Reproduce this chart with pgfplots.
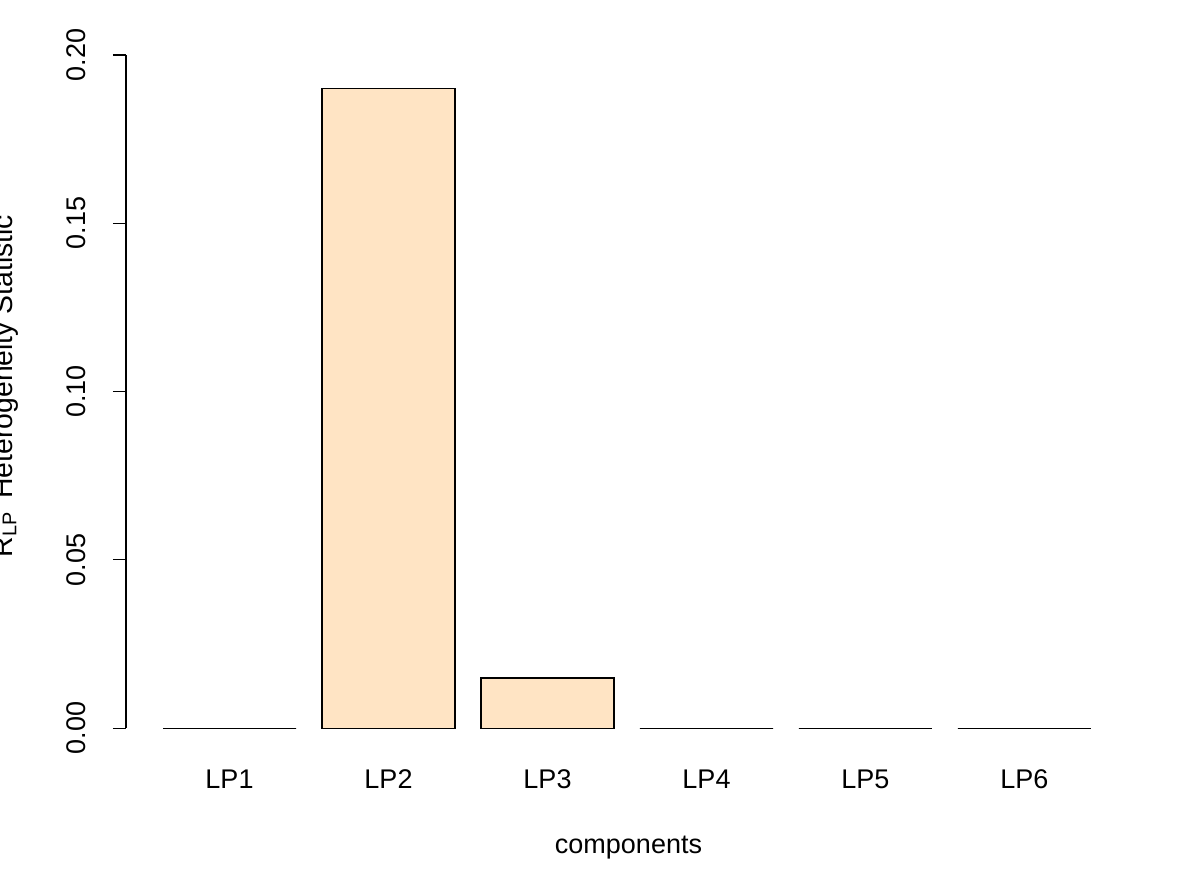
\documentclass[border=0pt]{standalone}
\usepackage{fontspec}
\setmainfont{Liberation Sans}
\usepackage{pgfplots}
\pgfplotsset{compat=1.18}
\definecolor{bisque}{HTML}{FFE4C4}
\begin{document}
\begin{tikzpicture}
\begin{axis}[
  at={(0,0)}, anchor=south west,
  scale only axis,
  width=446.67pt, height=323.11pt,
  xmin=-0.651, xmax=5.670,
  ymin=-0.008, ymax=0.208,
  axis line style={draw=none},
  xtick=data,
  xticklabels={LP1,LP2,LP3,LP4,LP5,LP6},
  xtick style={draw=none},
  ytick={0,0.05,0.10,0.15,0.20},
  tick pos=left,
  scaled y ticks=false,
  tick align=outside,
  major tick length=5.78pt,
  ytick style={black, line width=0.5pt},
  yticklabel style={rotate=90, anchor=base, inner sep=0pt,
    /pgf/number format/.cd, fixed, fixed zerofill, precision=2, assume math mode=true},
  yticklabel shift=12.0pt,
  xticklabel style={anchor=base, inner sep=0pt},
  xticklabel shift=8.9pt,
  tick label style={font=\fontsize{12}{14}\selectfont},
  label style={font=\fontsize{12}{14}\selectfont},
  ylabel={R\textsubscript{LP}\, Heterogeneity Statistic},
  ylabel style={at={(axis description cs:-0.1134,0.5076)}, anchor=base, rotate=0, font=\fontsize{12.6}{14}\selectfont},
  xlabel={components},
  xlabel style={at={(axis description cs:0.5,-0.1348)}, anchor=base},
  ybar, bar width=0.8365,
  clip=false,
]
\addplot[fill=bisque, draw=black, line width=0.5pt] coordinates {
  (0,0) (1,0.190) (2,0.0149) (3,0) (4,0) (5,0)
};
\draw[black, line width=0.5pt] (axis cs:-0.651,0) -- (axis cs:-0.651,0.2);
\end{axis}
\pgfresetboundingbox
\path[use as bounding box] (-56.0pt,-50.67pt) rectangle (475.56pt,335.56pt);
\end{tikzpicture}
\end{document}
